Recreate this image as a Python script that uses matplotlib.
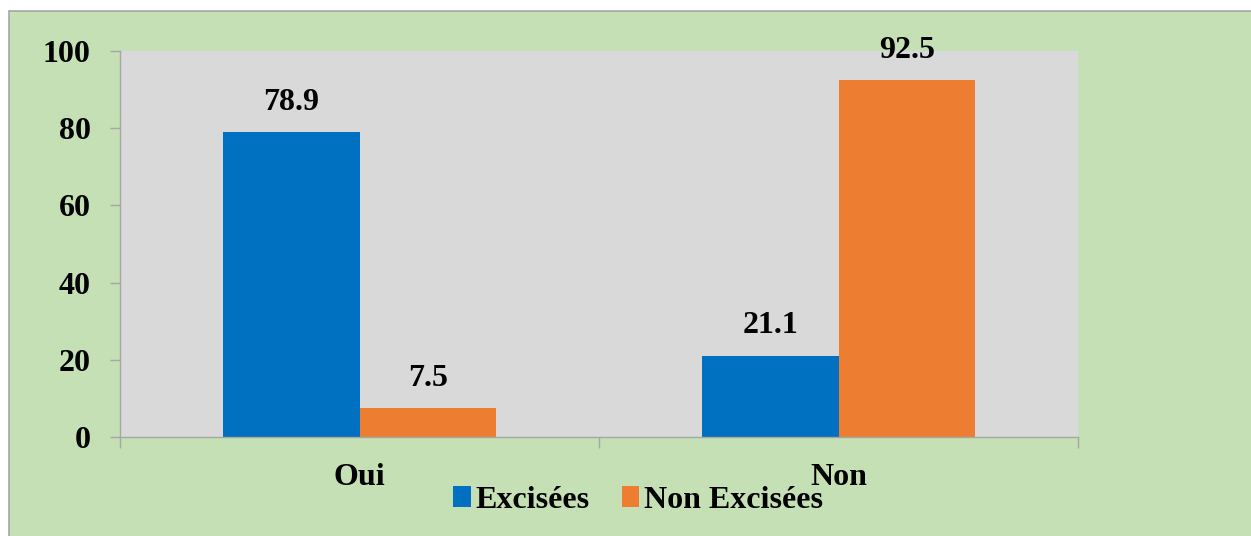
import matplotlib
matplotlib.use("Agg")
import matplotlib.pyplot as plt
from matplotlib.patches import Rectangle, Patch
import numpy as np

categories = ["Oui", "Non"]
series_names = ["Excisées", "Non Excisées"]
excisees = [78.9, 21.1]
non_excisees = [7.5, 92.5]
yticks = [0, 20, 40, 60, 80, 100]

colors = ["#0070C0", "#ED7D31"]
plt.rcParams['font.family'] = ['Liberation Serif', 'DejaVu Serif']
plt.rcParams['font.weight'] = 'bold'

fig = plt.figure(figsize=(12.51, 5.36), dpi=100)
fig.patch.set_facecolor("white")
bg = Rectangle((9/1251, -0.05), 1.05, 1.05 - 11/536, transform=fig.transFigure,
               facecolor="#C5E0B4", edgecolor="#A6A6A6", linewidth=1.2, zorder=-10)
fig.patches.append(bg)

ax = fig.add_axes([120/1251, 1 - 437/536, (1078-120)/1251, (437-51)/536])
ax.set_zorder(1)
ax.set_facecolor("#D9D9D9")

x = np.arange(len(categories))
w = 0.286
b1 = ax.bar(x - w/2, excisees, w, color=colors[0], zorder=2)
b2 = ax.bar(x + w/2, non_excisees, w, color=colors[1], zorder=2)

for bars, vals in ((b1, excisees), (b2, non_excisees)):
    for rect, v in zip(bars, vals):
        ax.annotate(f"{v:.1f}", (rect.get_x() + rect.get_width()/2, v),
                    xytext=(0, 11), textcoords="offset points",
                    ha="center", va="bottom", fontsize=23, fontweight="bold")

ax.set_xlim(-0.5, len(categories) - 0.5)
ax.set_ylim(0, 100)
ax.set_yticks(yticks)
ax.set_yticklabels([str(t) for t in yticks], fontsize=23, fontweight="bold")
ax.set_xticks(x)
ax.set_xticklabels(categories, fontsize=23, fontweight="bold")
ax.set_xticks(np.arange(-0.5, len(categories), 1.0), minor=True)
ax.tick_params(axis="x", which="major", length=0, pad=19)
ax.tick_params(axis="x", which="minor", length=8, color="#A6A6A6", width=1)
ax.tick_params(axis="y", length=7, color="#A6A6A6", width=1, pad=14)

for s in ["top", "right"]:
    ax.spines[s].set_visible(False)
for s in ["left", "bottom"]:
    ax.spines[s].set_color("#A6A6A6")
    ax.spines[s].set_linewidth(1)

handles = [Patch(facecolor=c, label=n) for c, n in zip(colors, series_names)]
fig.legend(handles=handles, loc="center", bbox_to_anchor=(638/1251, 1 - 500/536),
           ncol=2, frameon=False, handlelength=0.55, handleheight=0.65,
           handletextpad=0.15, columnspacing=1.0, borderaxespad=0,
           prop={'family': ['Liberation Serif'], 'weight': 'bold', 'size': 23})

fig.savefig("out.png", dpi=100, facecolor=fig.get_facecolor())
